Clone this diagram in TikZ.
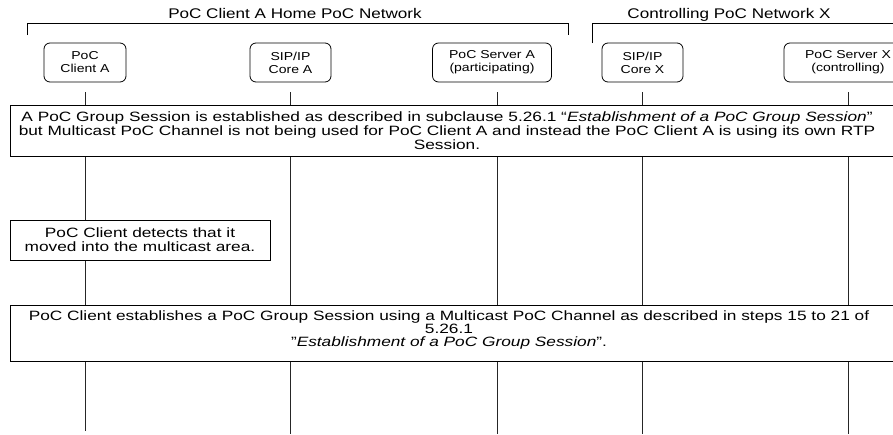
\documentclass[tikz,border=0pt]{standalone}
\usepackage{fontspec}
\setmainfont{Liberation Sans}[FakeStretch=1.22]
\newfontfamily\notefont{Liberation Sans}[FakeStretch=1.28]
\begin{document}
\begin{tikzpicture}[x=1pt,y=-1pt,
  line width=0.8pt,
  entity/.style={draw, rounded corners=6pt, minimum height=39pt, align=center,
    inner sep=0pt, font=\fontsize{11.5}{13}\selectfont},
  note/.style={draw, line width=1pt, fill=white, align=center, inner sep=0pt,
    font=\notefont\fontsize{13.5}{14}\selectfont},
  title/.style={anchor=base, font=\fontsize{14}{16}\selectfont},
  life/.style={line width=0.9pt, draw=black!85}]
\useasboundingbox (0,0) rectangle (893,434);
% network brackets
\node[title] (netA) at (295,18) {PoC Client A Home PoC Network};
\node[title] (netX) at (729,18) {Controlling PoC Network X};
\draw (27,35) |- (568,23) -- (568,35);
\draw (592,43) |- (900,23);
% entities
\node[entity, minimum width=82pt]  (ca)  at (85,62.5)  {PoC\\Client A};
\node[entity, minimum width=81pt]  (sa)  at (290.5,62.5) {SIP/IP\\Core A};
\node[entity, minimum width=119pt] (psa) at (492,62.5) {PoC Server A\\(participating)};
\node[entity, minimum width=81pt]  (sx)  at (642.5,62.5) {SIP/IP\\Core X};
\node[entity, minimum width=128pt] (psx) at (848,62.5) {PoC Server X\\(controlling)};
% lifelines
\coordinate (caT) at (85,92);   \coordinate (caB) at (85,431);
\coordinate (saT) at (290,92);  \coordinate (saB) at (290,434);
\coordinate (psaT) at (497,92); \coordinate (psaB) at (497,434);
\coordinate (sxT) at (642,92);  \coordinate (sxB) at (642,434);
\coordinate (psxT) at (848,92); \coordinate (psxB) at (848,434);
\draw[life] (caT) -- (caB);
\draw[life] (saT) -- (saB);
\draw[life] (psaT) -- (psaB);
\draw[life] (sxT) -- (sxB);
\draw[life] (psxT) -- (psxB);
% notes
\node[note, minimum width=885pt, minimum height=51pt] (n1) at (452.5,130.5) {};
\node[align=center, inner sep=0pt, font=\notefont\fontsize{13.5}{14}\selectfont] (t1) at (447,130.5)
  {A PoC Group Session is established as described in subclause 5.26.1 “\textit{Establishment of a PoC Group Session}”\\
   but Multicast PoC Channel is not being used for PoC Client A and instead the PoC Client A is using its own RTP\\
   Session.};
\node[note, minimum width=260pt, minimum height=40pt] (n2) at (140,240)
  {PoC Client detects that it\\moved into the multicast area.};
\node[note, minimum width=885pt, minimum height=56pt] (n3) at (452.5,333) {};
\node[align=center, inner sep=0pt, font=\notefont\fontsize{13.5}{13}\selectfont] (t3) at (449,330)
  {PoC Client establishes a PoC Group Session using a Multicast PoC Channel as described in steps 15 to 21 of\\
   5.26.1\\
   ”\textit{Establishment of a PoC Group Session}”.};
\end{tikzpicture}
\end{document}
